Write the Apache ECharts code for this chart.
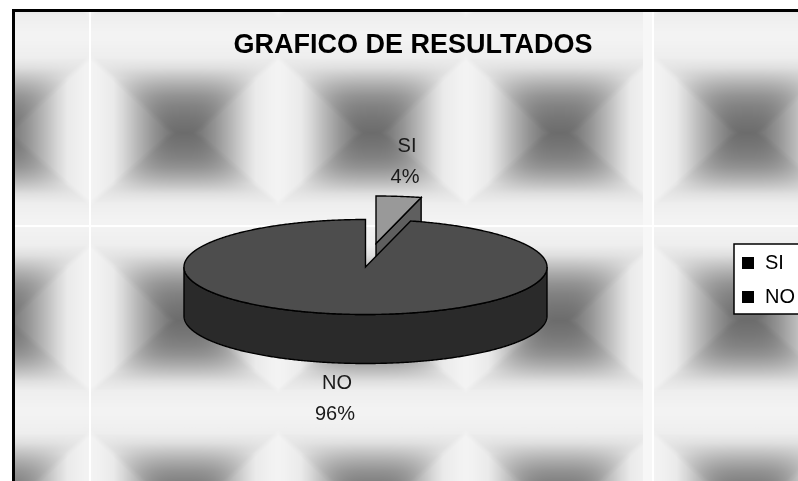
<!DOCTYPE html>
<html>
<head>
<meta charset="utf-8">
<style>html,body{margin:0;padding:0;background:#fff}#chart{width:798px;height:481px}</style>
<script src="https://cdn.jsdelivr.net/npm/echarts@6/dist/echarts.min.js"></script>
</head>
<body>
<div id="chart"></div>
<script>
// Survey results
const chartTitle = 'GRAFICO DE RESULTADOS';
const categories = ['SI', 'NO'];
const values = [4, 96];
const total = values.reduce((a, b) => a + b, 0);

// Tilted pie geometry
const W = 798, H = 481;
const CX = 365.5, CY = 267, RX = 181.5, RY = 47.5, DEPTH = 49;
const FONT = '"Liberation Sans", Arial, sans-serif';
const sliceStyles = {
  SI: { top: '#999999', side: '#5f5f5f', offset: [10.5, -23.5], label: [407, 146] },
  NO: { top: '#4d4d4d', side: '#2a2a2a', offset: [0, 0], label: [337, 383] }
};

// Grey tiled wall behind the chart. Each tile has a dark middle; above and below it
// the shading runs in horizontal bands, between neighbouring tiles in vertical stripes.
const TILE = 187.65, FIRST_X = -3.8, FIRST_Y = 132.4;
const bandRamp = [[0, 108], [15, 118], [27, 130], [37, 146], [47, 170], [57, 198], [65, 222], [75, 238], [94, 243]];
const stripeRamp = [[0, 108], [18, 125], [31, 148], [48, 185], [61, 215], [71, 234], [88, 242], [94, 243]];
function lookup(ramp, d) {
  for (let i = 1; i < ramp.length; i++) {
    if (d <= ramp[i][0]) {
      const a = ramp[i - 1], b = ramp[i];
      return a[1] + (b[1] - a[1]) * (d - a[0]) / (b[0] - a[0]);
    }
  }
  return 243;
}
function makeWall() {
  const c = document.createElement('canvas');
  c.width = W; c.height = H;
  const g = c.getContext('2d');
  const img = g.createImageData(W, H);
  const half = TILE / 2;
  for (let y = 0; y < H; y++) {
    for (let x = 0; x < W; x++) {
      const tx = ((x - FIRST_X + half) % TILE + TILE) % TILE - half;
      const ty = ((y - FIRST_Y + half) % TILE + TILE) % TILE - half;
      const dx = Math.abs(tx);
      const dy = ty < 0 ? -ty : ty * 1.07;
      // Diagonal seam between the two shading directions; the bands brighten a little
      // as they approach it, so only a faint crease is left along the seam
      const seam = dy * 1.08 + 12;
      const t = Math.min(1, dx / seam);
      const edge = Math.max(lookup(bandRamp, dy), lookup(stripeRamp, seam) - 8);
      const band = lookup(bandRamp, dy) * (1 - t * t * t) + edge * t * t * t;
      const mix = Math.max(0, Math.min(1, (dx - seam) / 8 + 0.5));
      const v = band * (1 - mix) + lookup(stripeRamp, dx) * mix;
      const i = (y * W + x) * 4;
      img.data[i] = img.data[i + 1] = img.data[i + 2] = v;
      img.data[i + 3] = 255;
    }
  }
  g.putImageData(img, 0, 0);
  g.fillStyle = '#f7f7f7';
  g.fillRect(643, 0, 9, H);
  g.fillStyle = '#ffffff';
  g.fillRect(89, 0, 2, H);
  g.fillRect(652, 0, 2, H);
  g.fillRect(0, 225, W, 2);
  return c;
}

// Point on the rim, angle in degrees clockwise from twelve o'clock
function rim(deg, ox, oy) {
  const t = deg * Math.PI / 180;
  return [CX + ox + RX * Math.sin(t), CY + oy - RY * Math.cos(t)];
}
function arcPoints(from, to, ox, oy) {
  const pts = [];
  const n = Math.max(2, Math.ceil(Math.abs(to - from) * 2));
  for (let i = 0; i <= n; i++) pts.push(rim(from + (to - from) * i / n, ox, oy));
  return pts;
}
function shape(points, fill) {
  return {
    type: 'polygon',
    shape: { points },
    style: { fill, stroke: '#000', lineWidth: 1.4, lineJoin: 'miter' }
  };
}
function caption(text, x, y) {
  return {
    type: 'text',
    style: { text, x, y, fill: '#1a1a1a', font: '20px ' + FONT, align: 'center', verticalAlign: 'middle' }
  };
}

// Draws one slice from its own value; slices follow each other clockwise from the top
function sliceSeries(idx) {
  const name = categories[idx];
  const before = values.slice(0, idx).reduce((a, b) => a + b, 0);
  return {
    type: 'custom',
    name,
    coordinateSystem: 'none',
    silent: true,
    z: idx + 2,
    data: [[values[idx]]],
    renderItem(params, api) {
      const share = api.value(0) / total;
      const s = sliceStyles[name];
      const [ox, oy] = s.offset;
      const start = before / total * 360, end = start + share * 360;
      const apex = [CX + ox, CY + oy];
      const children = [];
      // Front wall of the drum
      const a = Math.max(start, 90), b = Math.min(end, 270);
      if (b > a) {
        const upper = arcPoints(a, b, ox, oy);
        const lower = upper.map(p => [p[0], p[1] + DEPTH]).reverse();
        children.push(shape(upper.concat(lower), s.side));
      }
      // Cut face turned towards the viewer
      if (Math.sin(end * Math.PI / 180) > 1e-6) {
        const e = rim(end, ox, oy);
        children.push(shape([apex, e, [e[0], e[1] + DEPTH], [apex[0], apex[1] + DEPTH]], s.side));
      }
      // Top surface
      children.push(shape([apex].concat(arcPoints(start, end, ox, oy)), s.top));
      const pct = Math.round(share * 100) + '%';
      children.push(caption(name, s.label[0], s.label[1]));
      children.push(caption(pct, s.label[0] - 2, s.label[1] + 31));
      return { type: 'group', children };
    }
  };
}

const chart = echarts.init(document.getElementById('chart'), null, { renderer: 'canvas' });
chart.setOption({
  animation: false,
  backgroundColor: '#ffffff',
  title: {
    text: chartTitle,
    left: 408, top: 27, textAlign: 'center',
    textStyle: { fontFamily: FONT, fontSize: 27, fontWeight: 'bold', color: '#000' }
  },
  legend: {
    left: 734, top: 244,
    orient: 'vertical',
    selectedMode: false,
    backgroundColor: '#ffffff',
    borderColor: '#000', borderWidth: 1.5, borderRadius: 0,
    padding: [9, 50, 7, 8],
    itemWidth: 12, itemHeight: 12, itemGap: 14,
    textStyle: { fontFamily: FONT, fontSize: 20, color: '#000', padding: [0, 0, 0, 6] },
    data: categories.map(name => ({ name, icon: 'rect', itemStyle: { color: '#000', borderWidth: 0 } }))
  },
  graphic: [
    { type: 'image', silent: true, z: -10, x: 0, y: 0, style: { image: makeWall(), x: 0, y: 0, width: W, height: H } },
    // White margin and black frame around the plot
    { type: 'rect', silent: true, z: -9, shape: { x: 0, y: 0, width: W, height: 10 }, style: { fill: '#fff' } },
    { type: 'rect', silent: true, z: -9, shape: { x: 0, y: 0, width: 12, height: H }, style: { fill: '#fff' } },
    { type: 'rect', silent: true, z: -8, shape: { x: 13.5, y: 10.5, width: W + 20, height: H + 20 }, style: { fill: 'none', stroke: '#000', lineWidth: 3 } }
  ],
  series: categories.map((_, i) => sliceSeries(i))
});
</script>
</body>
</html>
